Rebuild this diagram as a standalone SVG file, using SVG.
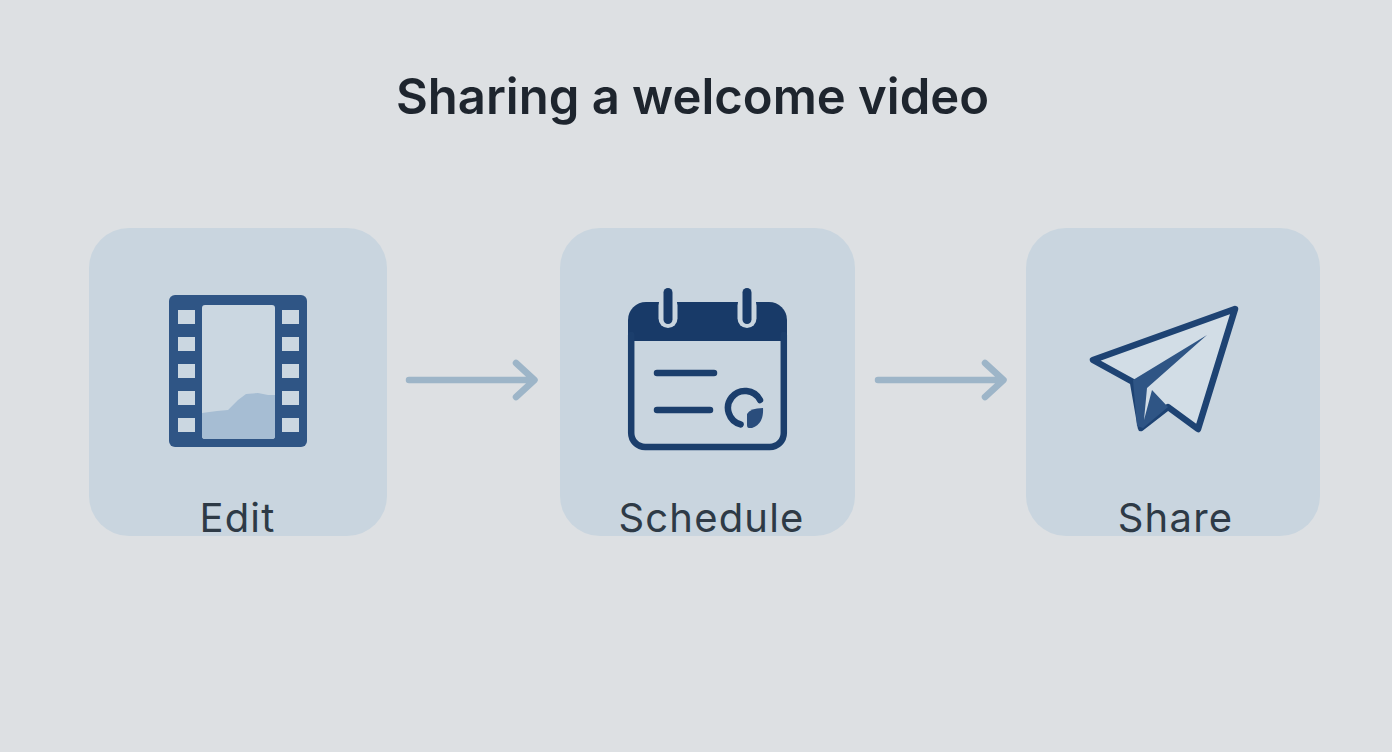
<svg xmlns="http://www.w3.org/2000/svg" width="1392" height="752" viewBox="0 0 1392 752">
<style>
.card{fill:#c9d5df}
.lbl{font-family:Inter,"Noto Sans",sans-serif;font-size:40px;letter-spacing:1.2px;fill:#2e3a46;text-anchor:middle}
.arr{fill:none;stroke:#9db5c8;stroke-width:6.500;stroke-linecap:round;stroke-linejoin:round}
.film{fill:#2f5585}
.hole{fill:#cbd7e1}
.cal{fill:none;stroke:#1b3e6c;stroke-width:6.500;stroke-linecap:round;stroke-linejoin:round}
</style>
<rect width="1392" height="752" fill="#dde0e3"/>
<text id="title" x="692.500" y="114" font-family="Inter,'Noto Sans',sans-serif" font-size="49" font-weight="600" fill="#1e252e" text-anchor="middle">Sharing a welcome video</text>
<g id="connectors">
<path class="arr" d="M409 380H534M516 363L534.500 380L516 397"/>
<path class="arr" d="M878 380H1003M985 363L1003.500 380L985 397"/>
</g>
<g id="edit">
<rect class="card" x="89" y="228" width="298" height="308" rx="40"/>
<rect class="film" x="169" y="295" width="138" height="152" rx="6"/>
<rect x="202" y="305" width="73" height="134" rx="3" fill="#cbd7e1"/>
<path d="M202 413L217 411L228 410L238 400L246 394L258 393L268 395L275 395V436a3 3 0 0 1-3 3H205a3 3 0 0 1-3-3Z" fill="#a6bdd3"/>
<g class="hole">
<rect x="178" y="310" width="17" height="14"/><rect x="178" y="337" width="17" height="14"/><rect x="178" y="364" width="17" height="14"/><rect x="178" y="391" width="17" height="14"/><rect x="178" y="418" width="17" height="14"/>
<rect x="282" y="310" width="17" height="14"/><rect x="282" y="337" width="17" height="14"/><rect x="282" y="364" width="17" height="14"/><rect x="282" y="391" width="17" height="14"/><rect x="282" y="418" width="17" height="14"/>
</g>
<text class="lbl" x="237.500" y="532">Edit</text>
</g>
<g id="schedule">
<rect class="card" x="560" y="228" width="295" height="308" rx="40"/>
<path d="M628 341V320a18 18 0 0 1 18-18H769a18 18 0 0 1 18 18V341Z" fill="#183a68"/>
<path class="cal" d="M631.200 335V433a14 14 0 0 0 14 14H769.800a14 14 0 0 0 14-14V335"/>
<rect x="658.500" y="296" width="19" height="32" rx="9.500" fill="#c9d5df"/>
<rect x="663.500" y="288" width="9" height="36" rx="4.500" fill="#183a68"/>
<rect x="737.500" y="296" width="19" height="32" rx="9.500" fill="#c9d5df"/>
<rect x="742.500" y="288" width="9" height="36" rx="4.500" fill="#183a68"/>
<path class="cal" d="M657 373H714M657 410H710"/>
<path class="cal" stroke-width="7" d="M760 400A17 17 0 1 0 740.600 424.400"/>
<path d="M747 414Q750 408 763 408Q764 424 752 428L749 428Q747 428 747 425Z" fill="#2a4d7c"/>
<text class="lbl" x="711.500" y="532">Schedule</text>
</g>
<g id="share">
<rect class="card" x="1026" y="228" width="294" height="308" rx="40"/>
<path d="M1235 309L1093 360L1133 382L1141 428L1168 407L1198 429Z" fill="#d2dde6" stroke="#1e4373" stroke-width="6.500" stroke-linejoin="round"/>
<path d="M1133 380L1207 335L1147 388L1144 420L1152 390L1168 407L1143 428L1137 426Z" fill="#2f5585"/>
<text class="lbl" x="1175.500" y="532">Share</text>
</g>
</svg>
